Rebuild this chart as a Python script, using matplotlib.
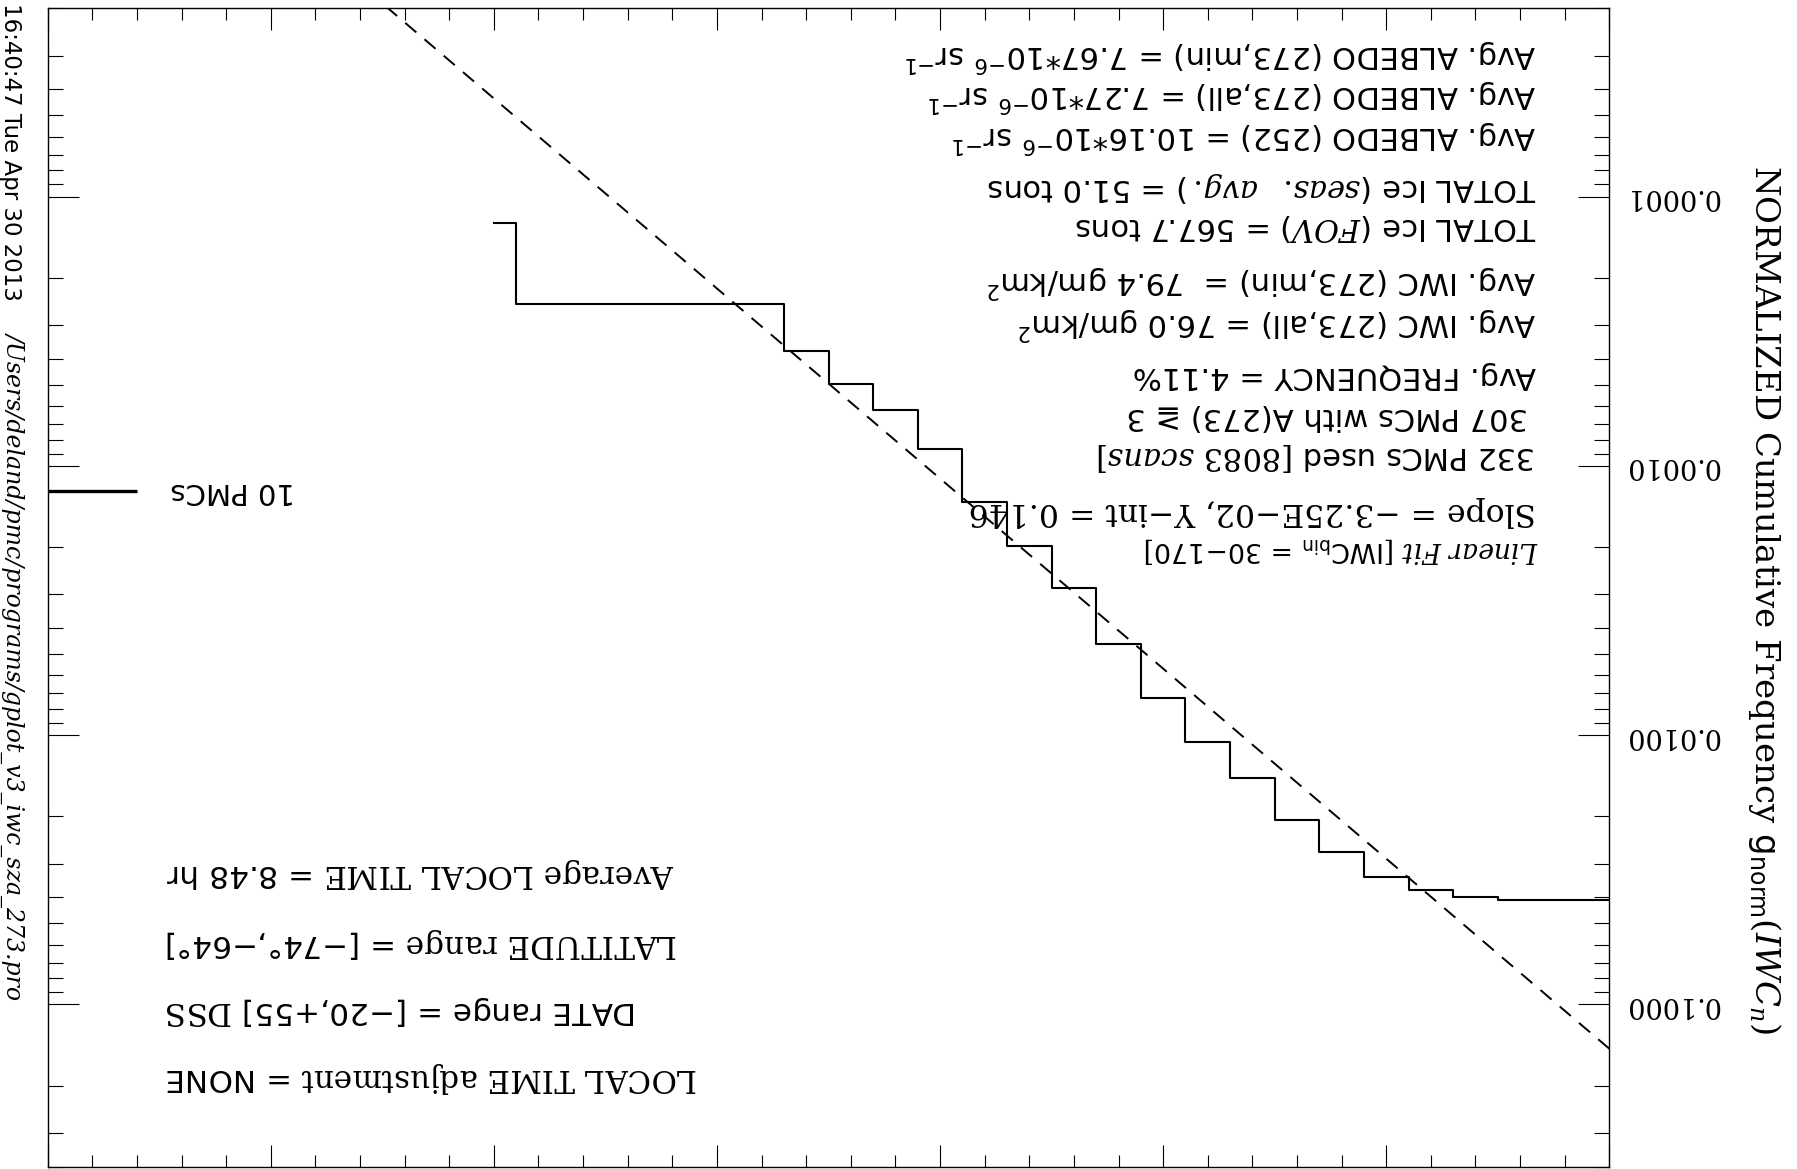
import numpy as np
import matplotlib
matplotlib.use("Agg")
import matplotlib.pyplot as plt
from matplotlib.ticker import MultipleLocator, LogLocator, NullFormatter, FixedLocator

plt.rcParams['font.family'] = ['DejaVu Sans', 'Noto Sans CJK JP']
plt.rcParams['mathtext.fontset'] = 'dejavuserif'

# ---------------- data ----------------
iwc_bins = [0, 10, 20, 30, 40, 50, 60, 70, 80, 90, 100, 110, 120, 130,
            140, 150, 160, 170, 180, 190, 200, 210, 220, 230, 240, 250]
g_norm = [0.0408, 0.0408, 0.0408, 0.0400, 0.0376, 0.0337, 0.0271, 0.0206,
          0.01445, 0.01057, 0.00726, 0.00459, 0.00285, 0.00198, 0.00136,
          0.000869, 0.000621, 0.000498, 0.000375, 0.000250, 0.000250,
          0.000250, 0.000250, 0.000250, 0.000250, 0.000125]
fit_slope = -3.25e-2          # natural-log slope
fit_yint = 0.146
fit_x_range = [0, 350]
pmc10_level = 1.24e-3
pmc10_x = [350, 330]
ytick_values = [1e-4, 1e-3, 1e-2, 1e-1]
ytick_labels = ['0.0001', '0.0010', '0.0100', '0.1000']

W, H = 1797, 1169
fig = plt.figure(figsize=(W / 100, H / 100), dpi=100)
ax = fig.add_axes([47.7 / W, (H - 1166.6) / H, (1609.3 - 47.7) / W, 1158.3 / H])
ax.set_yscale('log')
ax.set_xlim(350, 0)
ax.set_ylim(0.4, 2e-5)

# staircase (histogram mode)
ax.plot(iwc_bins, g_norm, drawstyle='steps-mid', color='black', lw=1.5)
# linear fit (in ln space)
fx = np.array(fit_x_range, dtype=float)
ax.plot(fx, fit_yint * np.exp(fit_slope * fx), color='black', lw=1.4,
        linestyle=(0, (7.5, 5.5)))
# 10 PMCs marker
ax.plot(pmc10_x, [pmc10_level, pmc10_level], color='black', lw=2.4,
        solid_capstyle='butt', clip_on=False)
ax.text(294.5, pmc10_level, '10 PMCs', rotation=180, rotation_mode='anchor',
        ha='left', va='center', fontsize=21)

# ticks
for s in ax.spines.values():
    s.set_linewidth(1.0)
ax.xaxis.set_major_locator(MultipleLocator(50))
ax.xaxis.set_minor_locator(MultipleLocator(10))
ax.tick_params(axis='x', which='both', direction='in', top=True, bottom=True,
               labelbottom=False, labeltop=False)
ax.tick_params(axis='x', which='major', length=16, width=0.8)
ax.tick_params(axis='x', which='minor', length=8.3, width=0.8)

ax.yaxis.set_major_locator(FixedLocator(ytick_values))
ax.set_yticklabels(ytick_labels)
ax.yaxis.set_minor_locator(LogLocator(base=10, subs=np.arange(2, 10)))
ax.yaxis.set_minor_formatter(NullFormatter())
ax.tick_params(axis='y', which='both', direction='in', left=True, right=True,
               labelleft=False, labelright=True)
ax.tick_params(axis='y', which='major', length=22.3, width=0.8, pad=10.8,
               labelsize=19.5, labelrotation=180)
ax.tick_params(axis='y', which='minor', length=10.8, width=0.8)
for lab in ax.get_yticklabels():
    lab.set_fontfamily('DejaVu Serif')
    lab.set_va('center')


def ftext(x, y, s, ha='left', size=22, **kw):
    fig.text(x / W, 1 - y / H, s, rotation=180, rotation_mode='anchor',
             ha=ha, va='center', fontsize=size, **kw)


# right info block (upside down)
right_lines = [
    (1536, 55, r'Avg. ALBEDO (273,min) = 7.67*10$^{\mathsf{-6}}$ sr$^{\mathsf{-1}}$', {}),
    (1536, 95, r'Avg. ALBEDO (273,all) = 7.27*10$^{\mathsf{-6}}$ sr$^{\mathsf{-1}}$', {}),
    (1536, 136, r'Avg. ALBEDO (252) = 10.16*10$^{\mathsf{-6}}$ sr$^{\mathsf{-1}}$', {}),
    (1536, 187, r'TOTAL Ice ($\mathit{seas.\ \ avg.}$) = 51.0 tons', {}),
    (1536, 228, r'TOTAL Ice ($\mathit{FOV}$) = 567.7 tons', {}),
    (1536, 281, r'Avg. IWC (273,min) =  79.4 gm/km$^{\mathsf{2}}$', {}),
    (1536, 323, r'Avg. IWC (273,all) = 76.0 gm/km$^{\mathsf{2}}$', {}),
    (1536, 376, 'Avg. FREQUENCY = 4.11%', {}),
    (1528, 417, '307 PMCs with A(273) ≧ 3', {}),
    (1536, 457, r'332 PMCs used $\mathit{[8083\ scans]}$', {}),
    (1536, 511, 'Slope = −3.25E−02, Y−int = 0.146',
     {'family': 'DejaVu Serif', 'size': 22.6}),
    (1538, 550, r'$\mathit{Linear\ Fit}$ $\mathrm{[}$IWC$_{\mathsf{bin}}$ = 30−170$\mathrm{]}$',
     {'size': 19.3}),
]
for x, y, s, kw in right_lines:
    ftext(x, y, s, **kw)

# lower-left block (upside down, right-aligned originally)
left_lines = [
    (873, r'$\mathrm{Average\ LOCAL\ TIME}$ = 8.48 hr'),
    (943, r'$\mathrm{LATITUDE\ range}$ = [−74°,−64°]'),
    (1010, r'DATE range = [−20,+55] $\mathrm{DSS}$'),
    (1078, r'$\mathrm{LOCAL\ TIME\ adjustment}$ = NONE'),
]
for y, s in left_lines:
    ftext(166, y, s, ha='right', size=22.3)

# y-axis title (right side, reading downward)
fig.text(1765 / W, 1 - 165 / H,
         r'$\mathrm{NORMALIZED\ Cumulative\ Frequency}\ \mathsf{g}_{\mathsf{norm}}(\mathit{IWC}_{\mathit{n}})$',
         rotation=270, rotation_mode='anchor', ha='left', va='center', fontsize=24.5)

# timestamp / program path at left edge
fig.text(4 / W, 1 - 3 / H, '16:40:47 Tue Apr 30 2013', rotation=270,
         rotation_mode='anchor', ha='left', va='baseline', fontsize=16.5)
fig.text(8 / W, 1 - 332 / H, '/Users/deland/pmc/programs/gplot_v3_iwc_sza_273.pro',
         rotation=270, rotation_mode='anchor', ha='left', va='baseline',
         fontsize=17, family='DejaVu Serif', style='italic')

fig.savefig('out.png', dpi=100)
